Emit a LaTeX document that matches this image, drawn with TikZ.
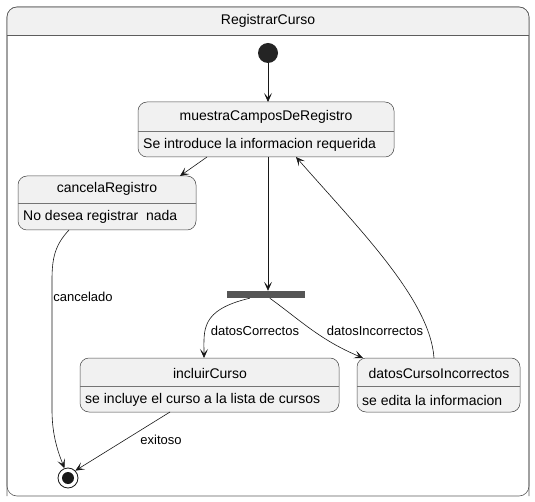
\documentclass[tikz,border=0pt]{standalone}
\usepackage{fontspec}
\setmainfont{Liberation Sans}
\usetikzlibrary{arrows.meta,calc}
\definecolor{stfill}{HTML}{F1F1F1}
\definecolor{stline}{HTML}{181818}
\definecolor{barc}{HTML}{555555}
\begin{document}
\begin{tikzpicture}[x=1pt,y=-1pt,
  stbox/.style={draw=stline!80,fill=stfill,rounded corners=9pt,line width=0.5pt},
  divl/.style={draw=stline!60,line width=0.5pt},
  tt/.style={font=\fontsize{14}{16}\selectfont,inner sep=0pt},
  lbl/.style={font=\fontsize{13}{15}\selectfont,inner sep=1pt},
  conn/.style={draw=stline,line width=0.6pt,-{Stealth[length=9pt,width=8pt,inset=4.5pt]}}]
\useasboundingbox (0,0) rectangle (535,502);
% outer composite
\draw[draw=stline!70,fill=white,rounded corners=10pt,line width=0.6pt] (7,7) rectangle (529,496);
\fill[stfill,rounded corners=10pt] (7.3,7.3) rectangle (528.7,34);
\fill[stfill] (7.3,20) rectangle (528.7,35);
\draw[draw=stline!70,rounded corners=10pt,line width=0.6pt] (7,496) -- (7,7) -- (529,7) -- (529,496);
\draw[stline!70,line width=0.6pt] (7,35) -- (529,35);
\node[tt] (title) at (268,21) {RegistrarCurso};
% initial
\node[circle,fill=stline!95,minimum size=20pt,inner sep=0pt] (init) at (268,53) {};
% muestra
\draw[stbox] (138,102) rectangle (394,157);
\draw[divl] (138,131) -- (394,131);
\node[tt] (m) at (266,117) {muestraCamposDeRegistro};
\node[tt,anchor=west] (mt) at (143,145) {Se introduce la informacion requerida};
\coordinate (mN) at (268,102);
\coordinate (mS) at (268,157);
\coordinate (mSW) at (207,157);
\coordinate (mSE) at (296,157);
% cancela
\draw[stbox] (18,176) rectangle (196,230);
\draw[divl] (18,203) -- (196,203);
\node[tt] (c) at (107,189) {cancelaRegistro};
\node[tt,anchor=west] (ct) at (23,217) {No desea registrar\ \ nada};
\coordinate (cN) at (180,176);
\coordinate (cS) at (69,230);
% fork
\node[fill=barc,minimum width=78pt,minimum height=7pt,inner sep=0pt] (fork) at (266,294.5) {};
% incluir
\draw[stbox] (80,358) rectangle (339,412);
\draw[divl] (80,386) -- (339,386);
\node[tt] (i) at (210,373) {incluirCurso};
\node[tt,anchor=west] (it) at (85,400) {se incluye el curso a la lista de cursos};
\coordinate (iN) at (204,358);
\coordinate (iS) at (170,412);
% datosCursoIncorrectos
\draw[stbox] (357,358) rectangle (520,412);
\draw[divl] (357,386) -- (520,386);
\node[tt] (d) at (439,373) {datosCursoIncorrectos};
\node[tt,anchor=west] (dt) at (362,400) {se edita la informacion};
\coordinate (dN) at (363,358);
\coordinate (dNT) at (434,358);
% final
\node[circle,draw=stline,line width=0.8pt,fill=white,minimum size=20pt,inner sep=0pt] (fin) at (68,478) {};
\node[circle,fill=stline,minimum size=12pt,inner sep=0pt] (finin) at (68,478) {};
% connectors
\draw[conn] (init) -- (mN);
\draw[conn] (mSW) -- (cN);
\draw[conn] (mS) -- (fork.north -| mS);
\draw[conn] ($(fork.south west)+(23,0)$) .. controls (200,310) and (204,330) .. (iN);
\draw[conn] ($(fork.south west)+(43,0)$) .. controls (300,320) and (320,340) .. (dN);
\draw[conn] (dNT) .. controls (430,300) and (360,230) .. (mSE);
\draw[conn] (cS) .. controls (55,245) and (52,258) .. (52,280) -- (52,410) .. controls (52,435) and (58,452) .. (fin.110);
\draw[conn] (iS) -- (fin.north east);
\node[lbl] (l1) at (255,331) {datosCorrectos};
\node[lbl] (l2) at (375,331) {datosIncorrectos};
\node[lbl] (l3) at (83,297) {cancelado};
\node[lbl] (l4) at (161,440) {exitoso};
\end{tikzpicture}
\end{document}
